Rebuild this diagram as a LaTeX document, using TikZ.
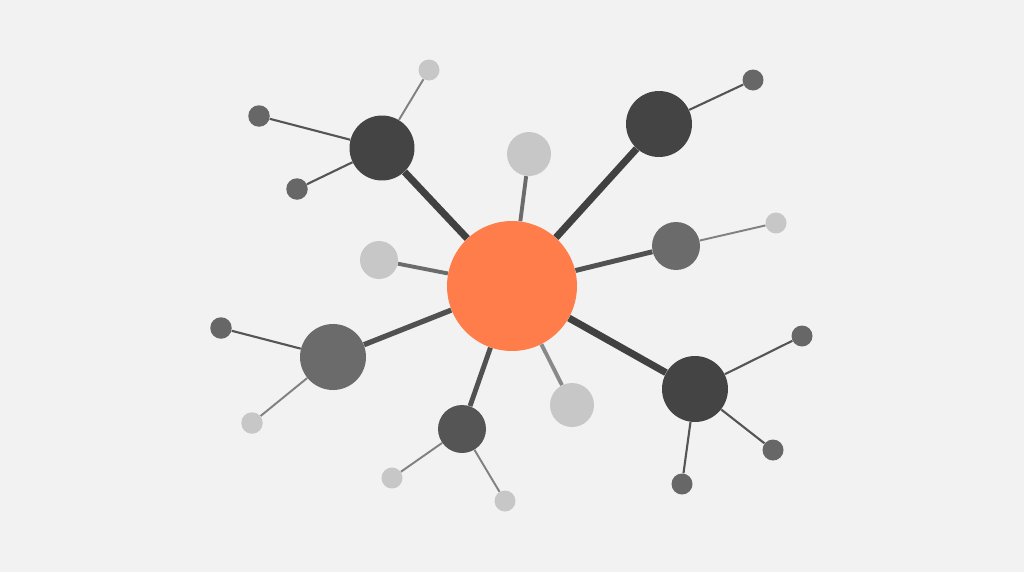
\documentclass[tikz,border=0pt]{standalone}
\usepackage{xcolor}
\definecolor{backdrop}{HTML}{F2F2F2}
\definecolor{hubfill}{HTML}{FF7D4A}
\definecolor{darkfill}{HTML}{444444}
\definecolor{midfill}{HTML}{6B6B6B}
\definecolor{dimfill}{HTML}{555555}
\definecolor{lightfill}{HTML}{C7C7C7}
\definecolor{satfill}{HTML}{676767}

\begin{document}
\begin{tikzpicture}[x=0.02cm,y=-0.02cm,
  blob/.style={circle,inner sep=0pt,minimum size=#1},
  heavy/.style={line width=4pt,draw=darkfill!95!black},
  medium/.style={line width=3pt,draw=dimfill!95!black},
  light/.style={line width=2.2pt,draw=midfill},
  twig/.style={line width=1.2pt,draw=dimfill},
  paletwig/.style={line width=1.1pt,draw=midfill!85}]
\fill[backdrop] (0,0) rectangle (1024,572);
% hub
\node (H) at (512,286) [blob=2.6cm,fill=hubfill] {};
% first ring
\node (A) at (382,148) [blob=1.3cm,fill=darkfill] {};
\node (B) at (659,124) [blob=1.32cm,fill=darkfill] {};
\node (C) at (529,154) [blob=0.88cm,fill=lightfill] {};
\node (D) at (676,246) [blob=0.96cm,fill=midfill] {};
\node (E) at (379,260) [blob=0.76cm,fill=lightfill] {};
\node (F) at (333,357) [blob=1.32cm,fill=midfill] {};
\node (G) at (462,429) [blob=0.96cm,fill=dimfill] {};
\node (K) at (572,405) [blob=0.88cm,fill=lightfill] {};
\node (I) at (695,389) [blob=1.32cm,fill=darkfill] {};
% leaves
\node (A1) at (259,116) [blob=0.43cm,fill=satfill] {};
\node (A2) at (297,189) [blob=0.43cm,fill=satfill] {};
\node (A3) at (429,70) [blob=0.42cm,fill=lightfill] {};
\node (B1) at (753,80) [blob=0.42cm,fill=satfill] {};
\node (D1) at (776,223) [blob=0.42cm,fill=lightfill] {};
\node (F1) at (221,328) [blob=0.43cm,fill=satfill] {};
\node (F2) at (252,423) [blob=0.43cm,fill=lightfill] {};
\node (G1) at (392,478) [blob=0.42cm,fill=lightfill] {};
\node (G2) at (505,501) [blob=0.42cm,fill=lightfill] {};
\node (I1) at (802,336) [blob=0.42cm,fill=satfill] {};
\node (I2) at (773,450) [blob=0.42cm,fill=satfill] {};
\node (I3) at (682,484) [blob=0.42cm,fill=satfill] {};
% spokes
\draw[heavy] (H) -- (A);
\draw[heavy] (H) -- (B);
\draw[heavy] (H) -- (I);
\draw[medium] (H) -- (F);
\draw[medium,line width=2.8pt] (H) -- (D);
\draw[medium,line width=2.8pt] (H) -- (G);
\draw[light] (H) -- (C);
\draw[light] (H) -- (E);
\draw[light,draw=midfill!80] (H) -- (K);
% twigs
\draw[twig] (A) -- (A1);
\draw[twig] (A) -- (A2);
\draw[paletwig] (A) -- (A3);
\draw[twig] (B) -- (B1);
\draw[paletwig] (D) -- (D1);
\draw[twig] (F) -- (F1);
\draw[paletwig] (F) -- (F2);
\draw[paletwig] (G) -- (G1);
\draw[paletwig] (G) -- (G2);
\draw[twig] (I) -- (I1);
\draw[twig] (I) -- (I2);
\draw[twig] (I) -- (I3);
\end{tikzpicture}
\end{document}
